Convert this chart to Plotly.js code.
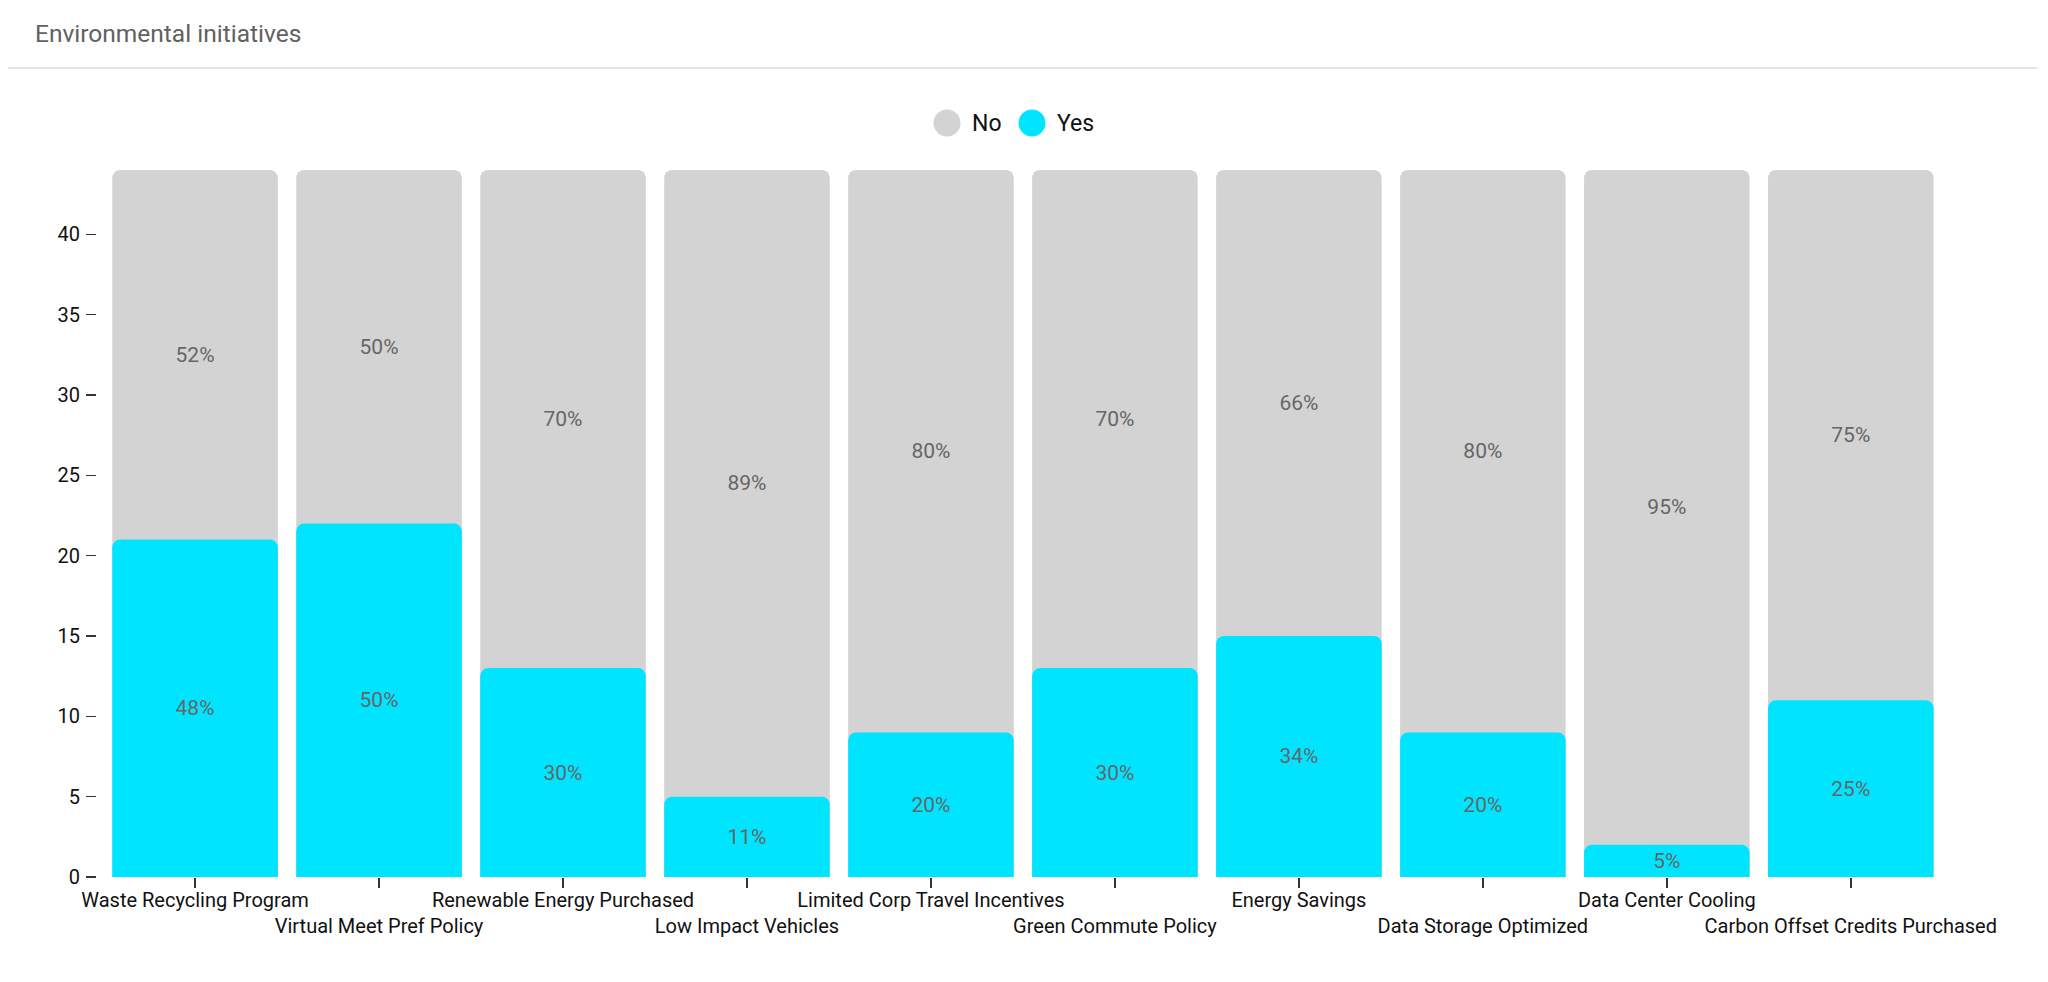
<!DOCTYPE html>
<html>
<head>
<meta charset="utf-8">
<script src="https://cdn.plot.ly/plotly-3.0.1.min.js"></script>
<style>
  html, body { margin: 0; padding: 0; background: #ffffff; }
  #chart { width: 2048px; height: 982px; }
</style>
</head>
<body>
<div id="chart"></div>
<script>
// ---- data ----
const categories = [
  "Waste Recycling Program",
  "Virtual Meet Pref Policy",
  "Renewable Energy Purchased",
  "Low Impact Vehicles",
  "Limited Corp Travel Incentives",
  "Green Commute Policy",
  "Energy Savings",
  "Data Storage Optimized",
  "Data Center Cooling",
  "Carbon Offset Credits Purchased"
];
const yesCounts = [21, 22, 13, 5, 9, 13, 15, 9, 2, 11];
const noCounts  = [23, 22, 31, 39, 35, 31, 29, 35, 42, 33];
const seriesNames = ["No", "Yes"];
const yTickValues = [0, 5, 10, 15, 20, 25, 30, 35, 40];

// ---- derived ----
const totals = categories.map((c, i) => yesCounts[i] + noCounts[i]);
const pct = (v, t) => Math.round(v / t * 100) + "%";
const yesText = yesCounts.map((v, i) => pct(v, totals[i]));
const noText = noCounts.map((v, i) => pct(v, totals[i]));
// alternate tick labels onto two rows
const tickText = categories.map((c, i) => (i % 2 === 1 ? " <br>" + c : c));

const GRAY = "#d3d3d3";
const CYAN = "#00e5ff";
const FONT = "Roboto, 'Noto Sans', 'Liberation Sans', sans-serif";
const labelFont = { family: FONT, size: 21, color: "#666666" };

const traces = [
  { // full "No" background column (total height)
    type: "bar", name: seriesNames[0], x: categories, y: totals,
    marker: { color: GRAY, cornerradius: 8 }, showlegend: false, hoverinfo: "skip"
  },
  { // "No" segment labels, centred on the No segment
    type: "bar", name: seriesNames[0] + " labels", x: categories, y: noCounts, base: yesCounts,
    marker: { color: "rgba(0,0,0,0)" }, text: noText, textposition: "inside",
    insidetextanchor: "middle", textangle: 0, constraintext: "none",
    textfont: labelFont, showlegend: false, hoverinfo: "skip"
  },
  { // "Yes" bars (own overlaid x axis so each gets its rounded top)
    type: "bar", name: seriesNames[1], x: categories, y: yesCounts, xaxis: "x2",
    marker: { color: CYAN, cornerradius: 8 }, text: yesText, textposition: "inside",
    insidetextanchor: "middle", textangle: 0, constraintext: "none",
    textfont: labelFont, showlegend: false, hoverinfo: "skip"
  }
];

const L = 97, R = 2048 - 1952, T = 170, B = 982 - 877;
const PW = 2048 - L - R, PH = 982 - T - B;
const legendY = 1 + (T - 123) / PH;
const xRange = [-0.533, 9.55];
const layout = {
  width: 2048, height: 982,
  margin: { l: L, r: R, t: T, b: B },
  paper_bgcolor: "#ffffff", plot_bgcolor: "#ffffff",
  barmode: "overlay", bargap: 0.1, barcornerradius: 8,
  showlegend: false,
  font: { family: FONT, color: "#222222" },
  title: {
    text: "Environmental initiatives",
    xref: "container", yref: "container",
    x: 35 / 2048, xanchor: "left", y: 1 - 33 / 982, yanchor: "middle",
    font: { family: FONT, size: 24.5, color: "#616161" }
  },
  xaxis: {
    type: "category", range: xRange,
    tickvals: categories, ticktext: tickText,
    ticks: "outside", ticklen: 10, tickwidth: 1.5, tickcolor: "#333333",
    ticklabelstandoff: -5,
    showgrid: false, zeroline: false, showline: false,
    tickfont: { family: FONT, size: 20, color: "#111111" },
    tickangle: 0, automargin: false, fixedrange: true
  },
  xaxis2: {
    type: "category", range: xRange, overlaying: "x", matches: "x",
    visible: false, showgrid: false, zeroline: false, fixedrange: true
  },
  yaxis: {
    range: [0, 44], tickvals: yTickValues,
    ticks: "outside", ticklen: 10, tickwidth: 1.5, tickcolor: "#333333",
    ticklabelstandoff: 2,
    showgrid: false, zeroline: false, showline: false,
    tickfont: { family: FONT, size: 20, color: "#111111" },
    automargin: false, fixedrange: true
  },
  shapes: [
    { type: "line", xref: "paper", yref: "paper",
      x0: (8 - L) / PW, x1: (2037 - L) / PW, y0: 1 + (T - 68) / PH, y1: 1 + (T - 68) / PH,
      line: { color: "#e3e3e3", width: 2 } },
    { type: "circle", xref: "paper", yref: "paper", xsizemode: "pixel", ysizemode: "pixel",
      xanchor: (1021 - L) / PW, yanchor: legendY, x0: -87.5, x1: -60.5, y0: -13.5, y1: 13.5,
      fillcolor: GRAY, line: { width: 0 } },
    { type: "circle", xref: "paper", yref: "paper", xsizemode: "pixel", ysizemode: "pixel",
      xanchor: (1021 - L) / PW, yanchor: legendY, x0: -2.5, x1: 24.5, y0: -13.5, y1: 13.5,
      fillcolor: CYAN, line: { width: 0 } }
  ],
  annotations: [
    { text: seriesNames[0], xref: "paper", yref: "paper", x: (1021 - L) / PW, y: legendY, xshift: -51,
      xanchor: "left", yanchor: "middle", showarrow: false,
      font: { family: FONT, size: 23, color: "#111111" } },
    { text: seriesNames[1], xref: "paper", yref: "paper", x: (1021 - L) / PW, y: legendY, xshift: 34,
      xanchor: "left", yanchor: "middle", showarrow: false,
      font: { family: FONT, size: 23, color: "#111111" } }
  ]
};

Plotly.newPlot("chart", traces, layout, { displayModeBar: false, staticPlot: true });
</script>
</body>
</html>
